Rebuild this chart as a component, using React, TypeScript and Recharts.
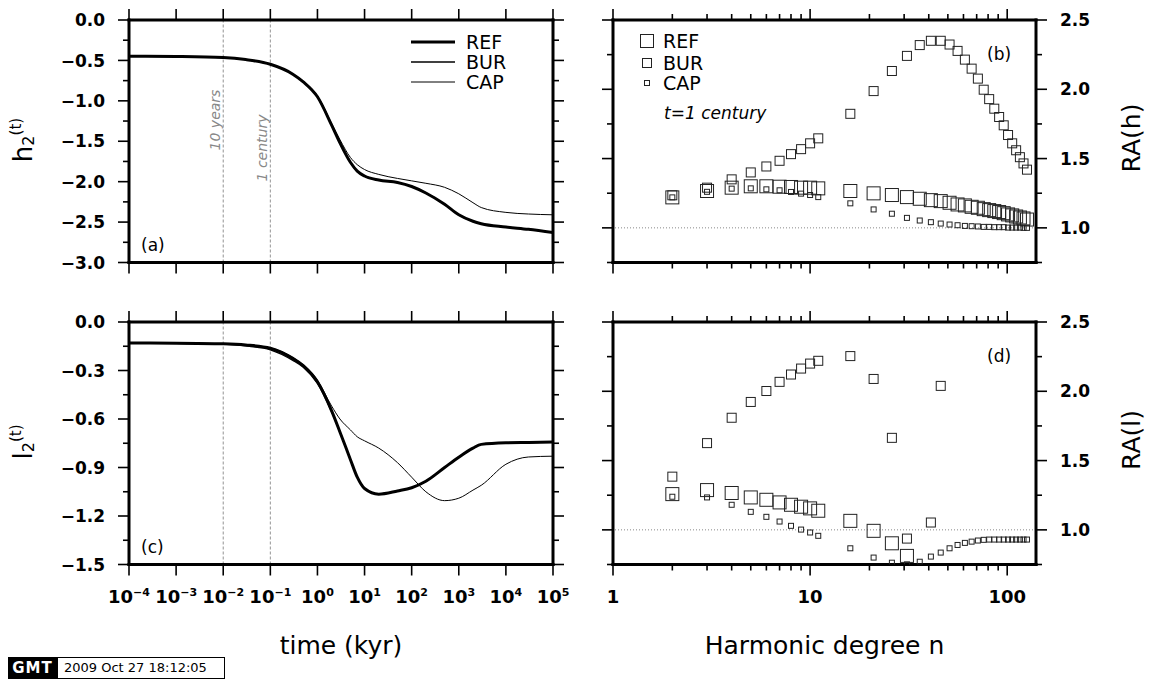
import React from 'react';
import { LineChart, Line, ScatterChart, Scatter, XAxis, YAxis, ReferenceLine } from 'recharts';

// time axis (kyr) and Love number curves
const times = [1e-4, 1e-3, 1e-2, 3e-2, 0.1, 0.3, 0.5, 1, 2, 3, 5, 7, 10, 20, 50, 100, 200, 500, 1e3, 2e3, 3e3, 1e4, 3e4, 1e5];
const h2Ref = [-0.448, -0.452, -0.465, -0.49, -0.548, -0.67, -0.765, -0.95, -1.3, -1.52, -1.76, -1.87, -1.93, -1.98, -2.01, -2.06, -2.14, -2.28, -2.41, -2.49, -2.52, -2.56, -2.59, -2.63];
const h2Bur = [-0.448, -0.452, -0.465, -0.49, -0.548, -0.67, -0.765, -0.95, -1.3, -1.52, -1.76, -1.87, -1.93, -1.98, -2.01, -2.06, -2.14, -2.28, -2.41, -2.49, -2.52, -2.56, -2.59, -2.63];
const h2Cap = [-0.448, -0.452, -0.465, -0.49, -0.548, -0.67, -0.762, -0.94, -1.28, -1.48, -1.7, -1.79, -1.85, -1.91, -1.96, -1.99, -2.02, -2.07, -2.15, -2.26, -2.32, -2.38, -2.4, -2.41];
const l2Ref = [-0.13, -0.131, -0.135, -0.142, -0.162, -0.225, -0.27, -0.37, -0.55, -0.68, -0.85, -0.96, -1.03, -1.065, -1.045, -1.025, -0.985, -0.9, -0.836, -0.78, -0.757, -0.747, -0.745, -0.743];
const l2Bur = [-0.13, -0.131, -0.137, -0.148, -0.172, -0.237, -0.28, -0.38, -0.555, -0.68, -0.85, -0.96, -1.03, -1.065, -1.045, -1.025, -0.985, -0.9, -0.836, -0.78, -0.757, -0.747, -0.745, -0.743];
const l2Cap = [-0.13, -0.131, -0.135, -0.142, -0.16, -0.22, -0.265, -0.36, -0.52, -0.6, -0.667, -0.71, -0.735, -0.78, -0.87, -0.96, -1.05, -1.105, -1.09, -1.04, -1.01, -0.88, -0.835, -0.83];

// harmonic degrees and relative amplitudes at t = 1 century
const degrees = [2, 3, 4, 5, 6, 7, 8, 9, 10, 11, 16, 21, 26, 31, 36, 41, 46, 51, 56, 61, 66, 71, 76, 81, 86, 91, 96, 101, 106, 111, 116, 121, 126];
const raHRef = [1.22, 1.266, 1.29, 1.3, 1.3, 1.297, 1.295, 1.29, 1.29, 1.285, 1.266, 1.249, 1.237, 1.222, 1.21, 1.2, 1.193, 1.181, 1.169, 1.162, 1.152, 1.145, 1.135, 1.128, 1.121, 1.114, 1.106, 1.097, 1.09, 1.082, 1.075, 1.068, 1.06];
const raHBur = [1.235, 1.29, 1.35, 1.4, 1.443, 1.484, 1.532, 1.568, 1.61, 1.646, 1.823, 1.987, 2.132, 2.241, 2.319, 2.35, 2.35, 2.323, 2.277, 2.214, 2.149, 2.077, 1.997, 1.929, 1.86, 1.8, 1.74, 1.67, 1.61, 1.56, 1.51, 1.465, 1.42];
const raHCap = [1.22, 1.26, 1.283, 1.285, 1.278, 1.271, 1.259, 1.247, 1.237, 1.222, 1.177, 1.133, 1.102, 1.072, 1.053, 1.041, 1.031, 1.024, 1.019, 1.014, 1.012, 1.01, 1.007, 1.007, 1.005, 1.005, 1.005, 1.002, 1.002, 1.002, 1.002, 1.0, 1.0];
const raLRef = [1.258, 1.287, 1.266, 1.234, 1.217, 1.198, 1.181, 1.167, 1.155, 1.138, 1.065, 0.993, 0.903, 0.812, null, null, null, null, null, null, null, null, null, null, null, null, null, null, null, null, null, null, null];
const raLBur = [1.384, 1.626, 1.809, 1.923, 2.002, 2.068, 2.121, 2.164, 2.2, 2.22, 2.254, 2.089, 1.664, 0.937, null, 1.053, 2.039, null, null, null, null, null, null, null, null, null, null, null, null, null, null, null, null];
const raLCap = [1.239, 1.234, 1.181, 1.13, 1.094, 1.06, 1.029, 1.002, 0.981, 0.957, 0.867, 0.8, 0.763, 0.751, 0.77, 0.807, 0.836, 0.867, 0.891, 0.906, 0.915, 0.923, 0.928, 0.93, 0.93, 0.93, 0.93, 0.93, 0.93, 0.93, 0.93, 0.93, 0.93];

// ticks
const timeTicks = [1e-4, 1e-3, 1e-2, 1e-1, 1, 10, 100, 1e3, 1e4, 1e5];
const degreeTicks = [1, 2, 3, 4, 5, 6, 7, 8, 9, 10, 20, 30, 40, 50, 60, 70, 80, 90, 100];
const degreeLabels = [1, 10, 100];
const h2Ticks = [0, -0.25, -0.5, -0.75, -1, -1.25, -1.5, -1.75, -2, -2.25, -2.5, -2.75, -3];
const l2Ticks = [0, -0.15, -0.3, -0.45, -0.6, -0.75, -0.9, -1.05, -1.2, -1.35, -1.5];
const raTicks = [0.75, 1, 1.25, 1.5, 1.75, 2, 2.25, 2.5];
const markerTimes = [0.01, 0.1];
const markerNames = ['10 years', '1 century'];
const seriesNames = ['REF', 'BUR', 'CAP'];

const FONT = '"DejaVu Sans", Verdana, sans-serif';
const lineWidth: Record<string, number> = { REF: 3, BUR: 1.4, CAP: 1 };
const squareSide: Record<string, number> = { REF: 13, BUR: 9, CAP: 5 };
const frame = { stroke: '#000', strokeWidth: 3, strokeLinecap: 'square' as const };

const h2Data = times.map((t, i) => ({ t, REF: h2Ref[i], BUR: h2Bur[i], CAP: h2Cap[i] }));
const l2Data = times.map((t, i) => ({ t, REF: l2Ref[i], BUR: l2Bur[i], CAP: l2Cap[i] }));
const toPoints = (vals: (number | null)[]) =>
  degrees.map((n, i) => ({ n, v: vals[i] })).filter((d) => d.v != null);
const raH: Record<string, any[]> = { REF: toPoints(raHRef), BUR: toPoints(raHBur), CAP: toPoints(raHCap) };
const raL: Record<string, any[]> = { REF: toPoints(raLRef), BUR: toPoints(raLBur), CAP: toPoints(raLCap) };

type Side = 'left' | 'right' | 'top' | 'bottom';
const every = () => true;
const multipleOf = (step: number) => (v: number) => Math.abs(v / step - Math.round(v / step)) < 1e-6;
const signed = (v: number) => (Math.abs(v) < 1e-9 ? '0.0' : '\u2212' + Math.abs(v).toFixed(1));
const power = (v: number) => {
  const e = Math.round(Math.log10(v));
  return (
    <>
      <tspan>10</tspan>
      <tspan dy={-7} fontSize={11}>{e < 0 ? '\u2212' + Math.abs(e) : String(e)}</tspan>
    </>
  );
};

function makeTick(side: Side, isMajor: (v: number) => boolean, label?: (v: number) => React.ReactNode) {
  return (props: any) => {
    const { x, y, payload } = props;
    const v = Number(payload.value);
    const major = isMajor(v);
    const len = major ? 11 : 6;
    const x2 = side === 'left' ? x - len : side === 'right' ? x + len : x;
    const y2 = side === 'top' ? y - len : side === 'bottom' ? y + len : y;
    let text: React.ReactNode = null;
    if (major && label) {
      const common = { fontFamily: FONT, fontSize: 17, fontWeight: 700, fill: '#000' };
      if (side === 'left') text = <text x={x - 24} y={y} dy="0.36em" textAnchor="end" {...common}>{label(v)}</text>;
      if (side === 'right') text = <text x={x + 24} y={y} dy="0.36em" textAnchor="start" {...common}>{label(v)}</text>;
      if (side === 'bottom') text = <text x={x} y={y + 38} textAnchor="middle" {...common} fontSize={18}>{label(v)}</text>;
    }
    return (
      <g>
        <line x1={x} y1={y} x2={x2} y2={y2} stroke="#000" strokeWidth={1.6} />
        {text}
      </g>
    );
  };
}

const axisBase = {
  type: 'number' as const,
  allowDataOverflow: true,
  tickSize: 0,
  tickMargin: 0,
  tickLine: false,
  interval: 0 as const,
  axisLine: frame,
};

function RotatedTitle({ x, y, main, sub, sup }: { x: number; y: number; main: string; sub?: string; sup?: string }) {
  return (
    <text transform={`translate(${x},${y}) rotate(-90)`} textAnchor="middle" fontFamily={FONT} fill="#000">
      <tspan fontSize={26}>{main}</tspan>
      {sub && <tspan fontSize={16} dy={2}>{sub}</tspan>}
      {sup && <tspan fontSize={15} dy={-13}>{sup}</tspan>}
    </text>
  );
}

function TimePanel({ data, ticks, domain, major, yTitle, tag, withLegend, withXLabels, height, top }: any) {
  const plotTop = top;
  const plotBottom = top + 242.5;
  return (
    <LineChart width={580} height={height} data={data} margin={{ top: 0, right: 0, bottom: 0, left: 0 }}>
      <XAxis xAxisId="b" dataKey="t" scale="log" domain={[1e-4, 1e5]} ticks={timeTicks} orientation="bottom"
        height={height - plotBottom} {...axisBase} tick={makeTick('bottom', every, withXLabels ? power : undefined)} />
      <XAxis xAxisId="t" dataKey="t" scale="log" domain={[1e-4, 1e5]} ticks={timeTicks} orientation="top"
        height={plotTop} {...axisBase} tick={makeTick('top', every)} />
      <YAxis yAxisId="l" orientation="left" width={129} domain={domain} ticks={ticks} {...axisBase}
        tick={makeTick('left', major, signed)} />
      <YAxis yAxisId="r" orientation="right" width={27} domain={domain} ticks={ticks} {...axisBase}
        tick={makeTick('right', major)} />
      {markerTimes.map((m, i) => (
        <ReferenceLine key={m} xAxisId="b" yAxisId="l" x={m} stroke="#777" strokeWidth={0.8} strokeDasharray="3 2"
          label={withLegend ? (p: any) => (
            <text transform={`translate(${p.viewBox.x - 3},${i === 0 ? 120 : 148}) rotate(-90)`} textAnchor="middle"
              fontFamily={FONT} fontStyle="italic" fontSize={14} fill="#888">{markerNames[i]}</text>
          ) : undefined} />
      ))}
      {seriesNames.map((name) => (
        <Line key={name} xAxisId="b" yAxisId="l" type="monotone" dataKey={name} stroke="#000"
          strokeWidth={lineWidth[name]} dot={false} isAnimationActive={false} />
      ))}
      {withLegend && seriesNames.map((name, i) => (
        <g key={name}>
          <line x1={411} x2={455} y1={42 + 20 * i} y2={42 + 20 * i} stroke="#000" strokeWidth={lineWidth[name]} />
          <text x={466} y={42 + 20 * i} dy="0.36em" fontFamily={FONT} fontSize={19} fill="#000">{name}</text>
        </g>
      ))}
      <text x={141} y={plotBottom - 12} fontFamily={FONT} fontSize={17} fill="#000">{tag}</text>
      <RotatedTitle x={32} y={plotTop + 120} main={yTitle} sub="2" sup="(t)" />
      {withXLabels && (
        <text x={341} y={364} textAnchor="middle" fontFamily={FONT} fontSize={25} fill="#000">time (kyr)</text>
      )}
    </LineChart>
  );
}

function DegreePanel({ series, yTitle, tag, withLegend, withXLabels, height, top }: any) {
  const plotTop = top;
  const plotBottom = top + 242.5;
  return (
    <ScatterChart width={571} height={height} margin={{ top: 0, right: 0, bottom: 0, left: 0 }}>
      <XAxis xAxisId="b" dataKey="n" scale="log" domain={[1, 140]} ticks={degreeTicks} orientation="bottom"
        height={height - plotBottom} {...axisBase}
        tick={makeTick('bottom', (v) => degreeLabels.includes(v), withXLabels ? (v) => String(v) : undefined)} />
      <XAxis xAxisId="t" dataKey="n" scale="log" domain={[1, 140]} ticks={degreeTicks} orientation="top"
        height={plotTop} {...axisBase} tick={makeTick('top', (v) => degreeLabels.includes(v))} />
      <YAxis yAxisId="l" orientation="left" width={33} domain={[0.75, 2.5]} ticks={raTicks} {...axisBase}
        tick={makeTick('left', multipleOf(0.5))} />
      <YAxis yAxisId="r" dataKey="v" orientation="right" width={115} domain={[0.75, 2.5]} ticks={raTicks} {...axisBase}
        tick={makeTick('right', multipleOf(0.5), (v) => v.toFixed(1))} />
      <ReferenceLine xAxisId="b" yAxisId="r" y={1} stroke="#888" strokeWidth={1} strokeDasharray="1 2" />
      {seriesNames.map((name) => (
        <Scatter key={name} name={name} xAxisId="b" yAxisId="r" data={series[name]} isAnimationActive={false}
          shape={(p: any) => {
            const s = squareSide[name];
            if (p.cx == null || p.cy == null) return <g />;
            return <rect x={p.cx - s / 2} y={p.cy - s / 2} width={s} height={s} fill="none" stroke="#222" strokeWidth={1} />;
          }} />
      ))}
      {withLegend && (
        <g>
          {seriesNames.map((name, i) => (
            <g key={name}>
              <rect x={67 - squareSide[name] / 2} y={[41, 63, 83][i] - squareSide[name] / 2} width={squareSide[name]}
                height={squareSide[name]} fill="none" stroke="#222" strokeWidth={1} />
              <text x={83} y={[41, 63, 83][i]} dy="0.36em" fontFamily={FONT} fontSize={19} fill="#000">{name}</text>
            </g>
          ))}
          <text x={84} y={119} fontFamily={FONT} fontStyle="italic" fontSize={17} fill="#000">t=1 century</text>
        </g>
      )}
      <text x={407} y={plotTop + 40} fontFamily={FONT} fontSize={17} fill="#000">{tag}</text>
      <text transform={`translate(560,${plotTop + 118}) rotate(-90)`} textAnchor="middle" fontFamily={FONT}
        fontSize={25} fill="#000">{yTitle}</text>
      {withXLabels && (
        <text x={244.5} y={364} textAnchor="middle" fontFamily={FONT} fontSize={25} fill="#000">Harmonic degree n</text>
      )}
    </ScatterChart>
  );
}

export default function App() {
  return (
    <div style={{ position: 'absolute', left: 0, top: 0, width: 1151, height: 688, background: '#fff', overflow: 'hidden' }}>
      <div style={{ position: 'absolute', left: 0, top: 0 }}>
        <TimePanel data={h2Data} ticks={h2Ticks} domain={[-3, 0]} major={multipleOf(0.5)} yTitle="h" tag="(a)"
          withLegend height={290} top={20} />
      </div>
      <div style={{ position: 'absolute', left: 0, top: 290 }}>
        <TimePanel data={l2Data} ticks={l2Ticks} domain={[-1.5, 0]} major={multipleOf(0.3)} yTitle="l" tag="(c)"
          withXLabels height={398} top={32} />
      </div>
      <div style={{ position: 'absolute', left: 580, top: 0 }}>
        <DegreePanel series={raH} yTitle="RA(h)" tag="(b)" withLegend height={290} top={20} />
      </div>
      <div style={{ position: 'absolute', left: 580, top: 290 }}>
        <DegreePanel series={raL} yTitle="RA(l)" tag="(d)" withXLabels height={398} top={32} />
      </div>
      <div style={{ position: 'absolute', left: 8, top: 657, height: 22, display: 'flex', fontFamily: FONT }}>
        <div style={{ width: 49, height: 22, background: '#000', color: '#fff', fontWeight: 700, fontSize: 15,
          lineHeight: '22px', textAlign: 'center', letterSpacing: 1 }}>GMT</div>
        <div style={{ width: 160, height: 20, border: '1px solid #000', fontSize: 13, lineHeight: '20px',
          paddingLeft: 6, boxSizing: 'content-box' }}>2009 Oct 27 18:12:05</div>
      </div>
    </div>
  );
}
